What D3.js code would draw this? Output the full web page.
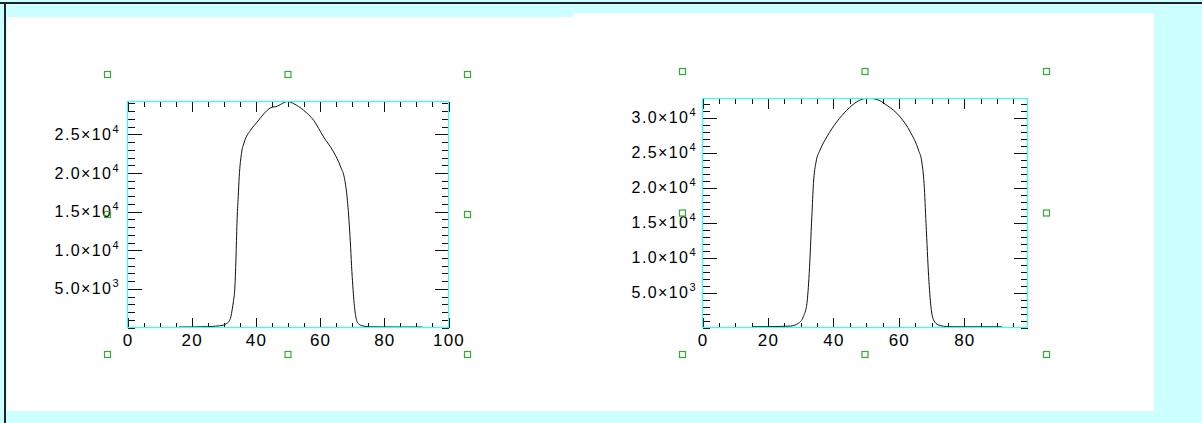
<!DOCTYPE html>
<html>
<head>
<meta charset="utf-8">
<script src="https://cdn.jsdelivr.net/npm/d3@7"></script>
<style>
  body { margin: 0; background: #ccffff; }
  text { font-family: "Liberation Sans", Arial, Helvetica, sans-serif; fill: #000; }
</style>
</head>
<body>
<div id="chart"></div>
<script>
  const width = 1202, height = 423;

  // left panel profile
  const xA = [16.0, 20, 25, 27.4, 29.8, 30.8, 31.6, 32.2, 32.6, 33.0, 33.4, 33.8, 34.1, 34.5, 34.8, 35.5, 36.4, 38.3, 40.4, 42.5, 44.6, 46.7, 47.7, 49.8, 51.8, 54.9, 58.0, 61.1, 64.2, 66.4, 67.6, 68.4, 69.2, 70.0, 70.7, 71.5, 72.2, 73.0, 75.7, 80, 86, 91.8];
  const yA = [60, 70, 110, 170, 300, 500, 780, 1400, 2290, 3400, 4870, 9000, 13480, 17000, 19490, 22510, 24010, 25520, 26590, 27670, 28440, 28650, 28870, 29250, 28960, 28100, 26810, 24650, 22720, 20780, 19280, 16910, 12610, 6590, 2720, 780, 400, 230, 90, 70, 60, 60];

  // right panel profile
  const xB = [15.3, 20, 26.8, 29.3, 30.8, 31.9, 32.6, 33.4, 33.9, 34.7, 35.9, 38.0, 41.0, 44.1, 47.1, 49.7, 51.2, 53.0, 56.3, 60.4, 63.5, 66.0, 67.0, 67.7, 68.3, 69.1, 69.8, 70.6, 72.1, 75.2, 80, 91.5];
  const yB = [110, 120, 200, 600, 1540, 3430, 7710, 15830, 20570, 23690, 25360, 27260, 29400, 31070, 32260, 32740, 32750, 32650, 31790, 30110, 27960, 25360, 23690, 20570, 14860, 7260, 2970, 1070, 360, 110, 100, 100];

  const xTicksA = [0, 20, 40, 60, 80, 100];
  const xTicksB = [0, 20, 40, 60, 80];
  const yTicksA = [5000, 10000, 15000, 20000, 25000];
  const yTicksB = [5000, 10000, 15000, 20000, 25000, 30000];

  const svg = d3.select('#chart').append('svg')
    .attr('width', width)
    .attr('height', height);

  // window frame
  svg.append('rect').attr('width', width).attr('height', height).attr('fill', '#ccffff');
  svg.append('rect').attr('x', 7).attr('y', 13).attr('width', 1147).attr('height', 398).attr('fill', '#fff');
  svg.append('rect').attr('x', 7).attr('y', 13).attr('width', 566).attr('height', 4).attr('fill', '#ccffff');
  svg.append('rect').attr('x', 0).attr('y', 2).attr('width', width).attr('height', 2).attr('fill', '#222');
  svg.append('rect').attr('x', 4).attr('y', 2).attr('width', 2).attr('height', height).attr('fill', '#222');

  function supLabel(sel) {
    sel.each(function (d) {
      const e = Math.floor(Math.log10(d));
      const m = (d / Math.pow(10, e)).toFixed(1);
      const t = d3.select(this).text(m + '\u00d710');
      t.append('tspan').attr('dy', -7).attr('font-size', 11).attr('letter-spacing', 0).text(e);
    });
  }

  function panel(p) {
    const x = d3.scaleLinear().domain([0, p.xmax]).range([p.left, p.right]);
    const y = d3.scaleLinear().domain([0, p.ymax]).range([p.bottom, p.top]);
    const g = svg.append('g').attr('color', '#111');
    const w = p.right - p.left, h = p.bottom - p.top;
    const lx = Math.round(h * 0.044), ly = Math.round(w * 0.044);

    const xMinor = d3.range(0, p.xmax, 5);
    const yMinor = d3.range(0, p.ymax, 1000);

    const ax = [
      [d3.axisBottom(x).tickValues(xMinor).tickSize(-lx / 2).tickFormat(''), p.bottom],
      [d3.axisTop(x).tickValues(xMinor).tickSize(-lx / 2).tickFormat(''), p.top],
      [d3.axisTop(x).tickValues(p.xTicks).tickSize(-lx).tickFormat(''), p.top]
    ];
    ax.forEach(([a, ty]) => {
      g.append('g').attr('transform', `translate(0,${ty})`).call(a).call(s => s.select('.domain').remove());
    });
    g.append('g').attr('transform', `translate(0,${p.bottom})`)
      .call(d3.axisBottom(x).tickValues(p.xTicks).tickSize(-lx).tickPadding(6.5).tickFormat(d3.format('d')))
      .call(s => s.select('.domain').remove())
      .call(s => s.selectAll('text').attr('font-size', 17).attr('letter-spacing', 1.2).attr('font-family', null));

    const ay = [
      [d3.axisLeft(y).tickValues(yMinor).tickSize(-ly / 2).tickFormat(''), p.left],
      [d3.axisRight(y).tickValues(yMinor).tickSize(-ly / 2).tickFormat(''), p.right],
      [d3.axisRight(y).tickValues(p.yTicks).tickSize(-ly).tickFormat(''), p.right]
    ];
    ay.forEach(([a, tx]) => {
      g.append('g').attr('transform', `translate(${tx},0)`).call(a).call(s => s.select('.domain').remove());
    });
    g.append('g').attr('transform', `translate(${p.left},0)`)
      .call(d3.axisLeft(y).tickValues(p.yTicks).tickSize(-ly).tickPadding(p.pad))
      .call(s => s.select('.domain').remove())
      .call(s => s.selectAll('text').attr('font-size', 16).attr('letter-spacing', 1.4)
        .attr('font-family', null).attr('dy', '0.32em').call(supLabel));

    g.selectAll('line').attr('shape-rendering', 'crispEdges');

    const line = d3.line().x(d => x(d[0])).y(d => y(d[1])).curve(d3.curveMonotoneX);
    g.append('path')
      .datum(d3.zip(p.xs, p.ys))
      .attr('fill', 'none')
      .attr('stroke', '#111')
      .attr('stroke-width', 1)
      .attr('d', line);

    g.append('rect')
      .attr('x', p.left).attr('y', p.top)
      .attr('width', w).attr('height', h)
      .attr('fill', 'none').attr('stroke', '#33ffff').attr('stroke-width', 1.2);

    // selection handles
    const hx = [p.left - 20, (p.left + p.right) / 2, p.right + 19];
    const hy = [p.top - 27, (p.top + p.bottom) / 2, p.bottom + 27];
    const handles = [];
    hy.forEach((yy, i) => hx.forEach((xx, j) => { if (!(i === 1 && j === 1)) handles.push([xx, yy]); }));
    svg.append('g').selectAll('rect').data(handles).join('rect')
      .attr('x', d => d[0] - 3).attr('y', d => d[1] - 3)
      .attr('width', 6).attr('height', 6)
      .attr('fill', 'none').attr('stroke', '#33aa33').attr('stroke-width', 1.2);
  }

  panel({ xs: xA, ys: yA, xmax: 100, ymax: 29250, xTicks: xTicksA, yTicks: yTicksA,
          left: 127.5, right: 448.5, top: 101.5, bottom: 327.5, pad: 9 });
  panel({ xs: xB, ys: yB, xmax: 99.3, ymax: 32750, xTicks: xTicksB, yTicks: yTicksB,
          left: 702.5, right: 1027.5, top: 98.5, bottom: 327.5, pad: 7 });
</script>
</body>
</html>
